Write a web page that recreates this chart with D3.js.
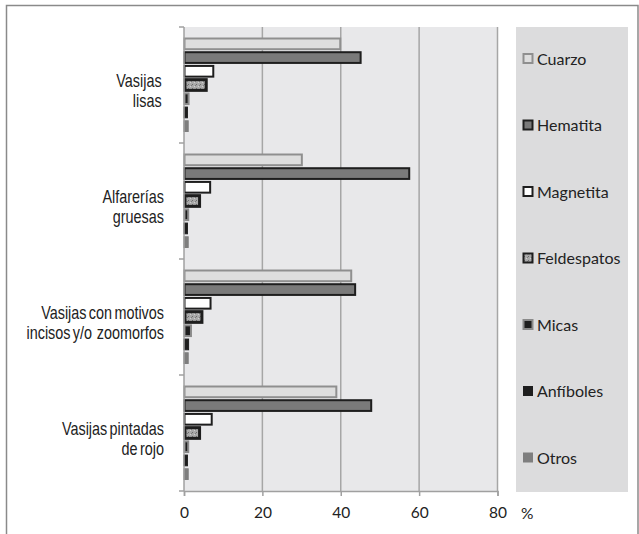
<!DOCTYPE html>
<html><head><meta charset="utf-8">
<script src="https://cdn.jsdelivr.net/npm/d3@7"></script>
<style>html,body{margin:0;padding:0;background:#fff;overflow:hidden}</style>
</head><body>
<svg id="c" width="639" height="534"></svg>
<script>
const categories = [["Vasijas ","lisas "],["Alfarerías","gruesas"],["Vasijas con motivos","incisos y/o  zoomorfos"],["Vasijas pintadas","de rojo"]];
const seriesNames = ["Cuarzo","Hematita","Magnetita","Feldespatos","Micas","Anfíboles","Otros"];
const cuarzo      = [40, 30.2, 42.8, 39];
const hematita    = [45.2, 57.6, 43.8, 47.9];
const magnetita   = [7.6, 6.8, 6.9, 7.2];
const feldespatos = [5.8, 4.1, 4.7, 4.1];
const micas       = [1.3, 1.2, 1.9, 1.2];
const anfiboles   = [1.0, 1.0, 1.3, 1.0];
const otros       = [1.2, 1.2, 1.2, 1.2];
const xTicks = [0, 20, 40, 60, 80];
const values = [cuarzo, hematita, magnetita, feldespatos, micas, anfiboles, otros];

const styles = [
  {fill:"#dedede", stroke:"#8f8f8f", sw:2},
  {fill:"#7a7a7a", stroke:"#1e1e1e", sw:2},
  {fill:"#ffffff", stroke:"#1e1e1e", sw:2},
  {fill:"url(#speck)", stroke:"#1e1e1e", sw:3},
  {fill:"#1e1e1e", stroke:"#8a8a8a", sw:2},
  {fill:"#1e1e1e", stroke:"#1e1e1e", sw:1},
  {fill:"#7e7e7e", stroke:"#7e7e7e", sw:1}
];

const svg = d3.select("#c");
const defs = svg.append("defs");
const pat = defs.append("pattern").attr("id","speck").attr("width",4).attr("height",4).attr("patternUnits","userSpaceOnUse");
pat.append("rect").attr("width",4).attr("height",4).attr("fill","#a9a9a9");
pat.append("rect").attr("x",0).attr("y",0).attr("width",1).attr("height",1).attr("fill","#6c6c6c");
pat.append("rect").attr("x",2).attr("y",2).attr("width",1).attr("height",1).attr("fill","#d0d0d0");
pat.append("rect").attr("x",3).attr("y",1).attr("width",1).attr("height",1).attr("fill","#7c7c7c");

// outer frame
svg.append("rect").attr("x",6.5).attr("y",5.5).attr("width",631.5).attr("height",560)
  .attr("fill","none").attr("stroke","#8a8a8a").attr("stroke-width",1.5);

const L = 184, R = 497.5, T = 27, B = 491;
const x = d3.scaleLinear().domain([0,80]).range([L,R]);
const y = d3.scaleBand().domain(d3.range(categories.length)).range([T,B]);
const yi = d3.scaleBand().domain(d3.range(seriesNames.length)).range([10, y.bandwidth()-10]);

svg.append("rect").attr("x",L).attr("y",T).attr("width",R-L).attr("height",B-T).attr("fill","#e8e8ea");

// gridlines
svg.append("g").selectAll("line").data(xTicks.slice(1)).join("line")
  .attr("x1",d=>x(d)).attr("x2",d=>x(d)).attr("y1",T).attr("y2",B)
  .attr("stroke","#a6a6a6").attr("stroke-width",1.5);

// bars
const g = svg.append("g");
categories.forEach((c,ci)=>{
  values.forEach((arr,si)=>{
    const st = styles[si];
    const y0 = y(ci) + yi(si) + 1.5;
    const h = yi.bandwidth() - 3;
    g.append("rect")
      .attr("x", x(0) + st.sw/2 - 0.5)
      .attr("y", y0)
      .attr("width", Math.max(0.5, x(arr[ci]) - x(0) - st.sw/2))
      .attr("height", h)
      .attr("fill", st.fill).attr("stroke", st.stroke).attr("stroke-width", st.sw);
  });
});

const uiFont = "Lato, 'Open Sans', sans-serif";

// x axis
const xAxis = d3.axisBottom(x).tickValues(xTicks).tickSize(5).tickPadding(11).tickFormat(d3.format("d"));
const xa = svg.append("g").attr("transform",`translate(0,${B})`).call(xAxis);
xa.select(".domain").attr("stroke","#a0a0a0").attr("stroke-width",1.5);
xa.selectAll(".tick line").attr("stroke","#a0a0a0").attr("stroke-width",1.5);
xa.selectAll("text").attr("font-family",uiFont).attr("font-size",15.5).attr("fill","#222");

// y axis line + ticks at band boundaries
const yEdges = d3.range(categories.length+1).map(i=> i<categories.length ? y(i) : B);
svg.append("line").attr("x1",L).attr("x2",L).attr("y1",T).attr("y2",B).attr("stroke","#a0a0a0").attr("stroke-width",1.5);
svg.append("g").selectAll("line").data(yEdges).join("line")
  .attr("x1",L-5).attr("x2",L).attr("y1",d=>d).attr("y2",d=>d)
  .attr("stroke","#a0a0a0").attr("stroke-width",1.5);

// category labels (condensed look)
const sx = 0.8, labelRight = 164;
const cl = svg.append("g").attr("transform",`translate(${labelRight},0) scale(${sx},1)`)
  .attr("font-family","'Liberation Sans', Arial, sans-serif")
  .attr("font-size",18).attr("word-spacing",-2).attr("fill","#222").attr("text-anchor","end");
categories.forEach((lines,ci)=>{
  const cy = y(ci) + y.bandwidth()/2;
  const t = cl.append("text").attr("x",0).attr("y",cy + 2).attr("xml:space","preserve");
  lines.forEach((ln,li)=>{
    t.append("tspan").attr("x",0).attr("dy", li===0?0:20).attr("xml:space","preserve").text(ln);
  });
});

// "%" label
svg.append("text").attr("x",521).attr("y",519).attr("font-family",uiFont)
  .attr("font-size",15.5).attr("fill","#222").text("%");

// legend
const lg = svg.append("g");
lg.append("rect").attr("x",516).attr("y",27).attr("width",112).attr("height",465).attr("fill","#dcdcdd");
const legY = d3.scalePoint().domain(d3.range(seriesNames.length)).range([59, 458]);
seriesNames.forEach((n,i)=>{
  const st = styles[i];
  const cy = legY(i);
  lg.append("rect").attr("x",523.5).attr("y",cy-5).attr("width",9).attr("height",9)
    .attr("fill",st.fill).attr("stroke",st.stroke).attr("stroke-width",Math.min(st.sw,2));
  lg.append("text").attr("x",537).attr("y",cy+5.5).attr("font-family",uiFont)
    .attr("font-size",16).attr("fill","#222").text(n);
});
</script>
</body></html>
